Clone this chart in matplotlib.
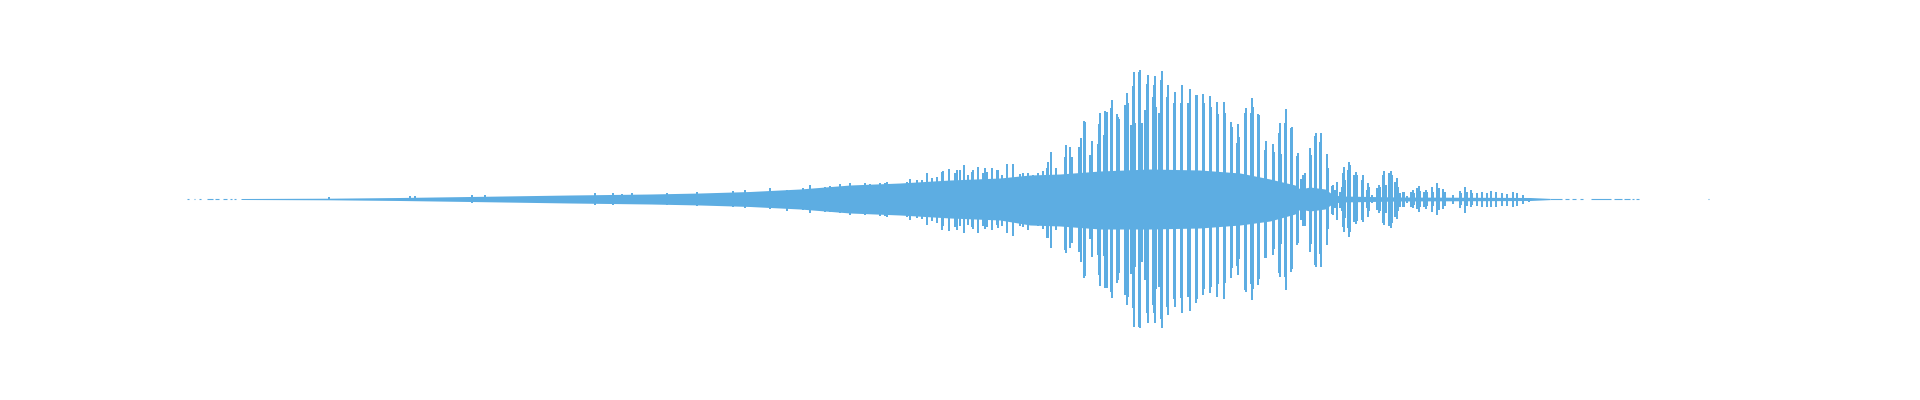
import matplotlib
matplotlib.use("Agg")
import matplotlib.pyplot as plt
import numpy as np

COLOR = "#5DADE2"

# Time axis in ms from the start of the recording; amplitudes in arbitrary units
body_t = [54, 143, 213, 283, 383, 463, 513, 563, 613, 663, 713, 763, 813, 843, 873, 913,
          963, 1013, 1053, 1083, 1108, 1113, 1123, 1138, 1145, 1153, 1213, 1343, 1363]
body_up = [0.5, 0.8, 1.5, 2.5, 4, 5, 6, 7.5, 10, 14, 16, 19, 21, 24, 25, 28,
           30, 29, 26, 20, 14, 10, 12, 10, 5, 3, 2, 1.5, 0.6]
body_down = [0.5, 0.8, 1.5, 2.5, 4, 5, 6, 7.5, 10, 14, 16, 19, 21, 26, 27, 30,
             30, 29, 26, 22, 15, 10, 12, 10, 5, 3, 2, 1.5, 0.6]

spike_t = [510, 546, 583, 623, 643, 663, 683, 698, 720, 730, 740, 755, 762, 770, 777, 785,
           791, 798, 805, 811, 820, 826, 836, 841,
           860, 864, 869, 878, 879, 883, 885, 892, 894, 897, 898, 903, 905, 911, 912, 913,
           917, 918, 920, 924, 925, 930, 931, 932, 938, 940, 941, 944, 946, 947, 948, 952,
           953, 955, 958, 960, 961, 966, 967, 968, 969, 972, 974, 975, 980, 981, 987, 988,
           994, 995, 1001, 1003, 1009, 1010, 1016, 1017, 1023, 1024, 1030, 1031, 1037, 1038,
           1044, 1045, 1050, 1051, 1052, 1058, 1059, 1064, 1065, 1066, 1071, 1072, 1078, 1079,
           1086, 1087, 1092, 1093, 1094, 1098, 1099, 1104, 1105, 1110, 1111, 1114, 1116, 1118,
           1123, 1124, 1128, 1129, 1133, 1134, 1140, 1141, 1145, 1146, 1148, 1150, 1153, 1155,
           1156, 1157, 1158, 1161, 1162, 1163, 1167, 1169, 1170, 1175, 1176, 1180, 1181, 1182,
           1185, 1190, 1192, 1193, 1196, 1197, 1199, 1202, 1204, 1205, 1208, 1210, 1211, 1213,
           1216, 1217, 1220, 1224, 1226, 1227, 1230, 1232, 1233, 1237, 1239, 1240, 1245, 1246,
           1250, 1252, 1256, 1258, 1266, 1273, 1274, 1278, 1280, 1284, 1285, 1290, 1295, 1300,
           1304, 1309, 1315, 1320, 1326, 1330, 1336, 1342]
spike_up = [7, 8, 11, 14, 13, 16, 15, 16, 17, 19, 26, 27, 30, 29, 34, 27,
            32, 31, 31, 29, 35, 35, 26, 26,
            31, 47, 31, 42, 54, 52, 42, 52, 61, 78, 77, 44, 58, 55, 75, 86,
            64, 88, 87, 91, 99, 85, 82, 80, 94, 106, 96, 74, 113, 127, 76, 127,
            129, 76, 89, 115, 124, 102, 114, 123, 92, 86, 119, 128, 102, 114, 96, 107,
            96, 114, 96, 110, 104, 104, 105, 96, 103, 92, 97, 85, 97, 86,
            77, 72, 56, 75, 62, 86, 91, 86, 101, 92, 85, 84, 49, 58,
            55, 47, 66, 76, 45, 76, 90, 71, 72, 43, 46, 20, 24, 26,
            51, 44, 63, 66, 57, 66, 45, 31, 13, 14, 9, 17, 7, 12,
            26, 32, 19, 29, 37, 34, 24, 27, 24, 19, 24, 9, 16, 12,
            4, 11, 14, 12, 24, 28, 14, 26, 28, 24, 17, 21, 12, 6,
            7, 7, 3, 7, 9, 6, 11, 13, 8, 7, 9, 7, 12, 7,
            16, 11, 10, 7, 4, 8, 6, 12, 7, 9, 6, 6, 7, 6,
            8, 7, 6, 5, 7, 6, 4, 1]
spike_down = [7, 8, 10, 14, 13, 16, 15, 17, 18, 19, 26, 31, 32, 31, 34, 28,
              34, 30, 31, 29, 34, 37, 28, 31,
              39, 49, 31, 51, 54, 49, 44, 53, 63, 79, 77, 40, 58, 56, 76, 87,
              57, 89, 89, 93, 99, 84, 81, 74, 96, 106, 98, 75, 109, 128, 68, 128,
              129, 63, 81, 114, 124, 106, 114, 124, 90, 88, 120, 129, 108, 116, 100, 108,
              99, 114, 98, 112, 104, 100, 96, 90, 94, 88, 98, 85, 100, 84,
              79, 69, 67, 76, 60, 91, 93, 85, 101, 90, 86, 80, 59, 59,
              56, 50, 74, 78, 45, 78, 91, 73, 70, 46, 44, 21, 27, 27,
              53, 45, 66, 68, 55, 68, 46, 30, 15, 16, 9, 21, 9, 12,
              28, 33, 19, 29, 38, 33, 23, 25, 22, 21, 23, 9, 18, 12,
              4, 11, 14, 12, 24, 26, 14, 27, 29, 24, 18, 20, 12, 8,
              8, 8, 4, 8, 9, 6, 10, 13, 8, 8, 10, 7, 13, 7,
              16, 11, 10, 7, 5, 9, 6, 14, 7, 8, 6, 7, 8, 8,
              8, 8, 7, 7, 8, 7, 5, 3]

# smaller ripples along the edge of the noise floor
ripple_t = [142, 223, 228, 285, 298, 408, 426, 435, 445, 480,
            558, 600, 606, 616, 633, 638, 646, 653, 670, 678, 693, 700, 723, 735, 745, 750,
            756, 768, 773, 781, 786, 796, 800, 810, 815, 833, 846, 851, 856, 861]
ripple_up = [1.5, 2.5, 3, 4, 3.5, 6, 6, 5, 5.5, 6,
             9, 9, 9, 11, 11, 12, 12, 15, 13, 16, 16, 17, 20, 19, 21, 22,
             28, 26, 29, 24, 29, 26, 27, 29, 24, 25, 24, 26, 28, 37]
ripple_down = [1.5, 2.5, 2.5, 4, 3.5, 6, 6, 5, 5, 6,
               9, 12, 10, 11, 12, 13, 12, 14, 14, 16, 17, 18, 21, 20, 22, 24,
               27, 28, 27, 26, 30, 27, 28, 26, 27, 27, 26, 27, 30, 39]

# near-silent stretches at the head and tail (start, end) in ms
head_dash_start = [0, 7, 12, 20, 28, 36, 43, 47]
head_dash_end = [2, 8, 14, 26, 32, 40, 45, 49]
tail_dash_start = [1363, 1378, 1385, 1393, 1404, 1427, 1437, 1445, 1449]
tail_dash_end = [1375, 1382, 1389, 1396, 1424, 1435, 1443, 1447, 1452]
click_t = [1521]

fig = plt.figure(figsize=(19.2, 4.0), dpi=100)
ax = fig.add_axes([0, 0, 1, 1])
ax.set_xlim(-187, 1733)
ax.set_ylim(-201, 199)
ax.axis("off")

bt = np.array(body_t, dtype=float)
ax.fill_between(bt, -np.array(body_down), np.array(body_up), color=COLOR, lw=0)
ax.vlines(ripple_t, -np.array(ripple_down), np.array(ripple_up), color=COLOR, lw=1.2,
          antialiased=False)
ax.vlines(spike_t, -np.array(spike_down), np.array(spike_up), color=COLOR, lw=1.4,
          antialiased=False)
ax.hlines([0] * len(head_dash_start), head_dash_start, head_dash_end, color=COLOR, lw=0.8)
ax.hlines([0] * len(tail_dash_start), tail_dash_start, tail_dash_end, color=COLOR, lw=0.8)
ax.hlines([0] * len(click_t), click_t, [c + 1 for c in click_t], color=COLOR, lw=0.8)

fig.savefig("out.png", dpi=100, facecolor="white")
